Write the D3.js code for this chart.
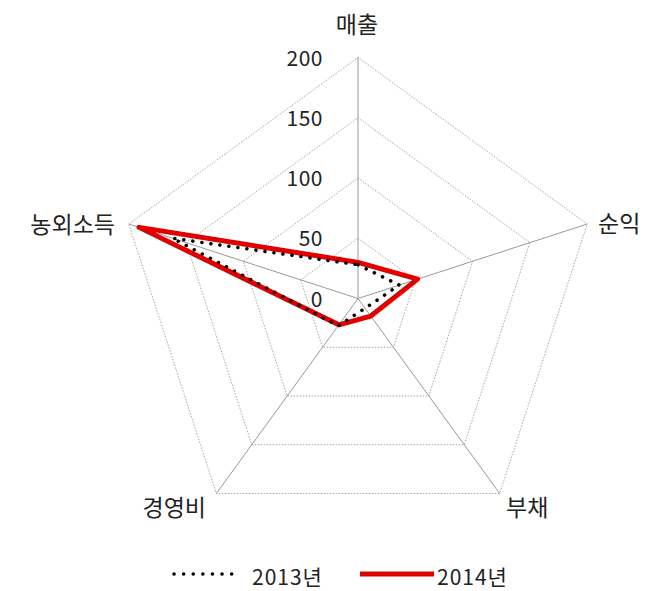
<!DOCTYPE html>
<html>
<head>
<meta charset="utf-8">
<script src="https://cdn.jsdelivr.net/npm/d3@7"></script>
<style>
  body { margin: 0; background: #fff; }
  text { font-family: "Noto Sans CJK KR", "Noto Sans", sans-serif; fill: #222; }
</style>
</head>
<body>
<div id="chart"></div>
<script>
// axes, clockwise from top
var categories = ['매출', '순익', '부채', '경영비', '농외소득'];
var values_2013 = [28, 36, 10, 28, 162];
var values_2014 = [30, 52, 18, 27, 191];
var series_names = ['2013년', '2014년'];
var tick_values = [0, 50, 100, 150, 200];

var chart_width = 649;
var chart_height = 591;
var cx = 358, cy = 298.5, radius = 241;

var svg = d3.select('#chart')
  .append('svg')
  .attr('width', chart_width)
  .attr('height', chart_height);

var r_scale = d3.scaleLinear()
  .domain([0, 200])
  .range([0, radius]);

var angle = d3.scalePoint()
  .domain(categories)
  .range([0, 2 * Math.PI * (categories.length - 1) / categories.length]);

function point(cat, v) {
  var a = angle(cat);
  return [cx + r_scale(v) * Math.sin(a), cy - r_scale(v) * Math.cos(a)];
}

var g = svg.append('g');

// grid rings
tick_values.slice(1).forEach(function(t) {
  g.append('polygon')
    .attr('points', categories.map(function(c) { return point(c, t).join(','); }).join(' '))
    .attr('fill', 'none')
    .attr('stroke', '#a6a6a6')
    .attr('stroke-width', 1)
    .attr('stroke-dasharray', '1.5,1.5');
});

// spokes
g.selectAll('.spoke')
  .data(categories)
  .enter()
  .append('line')
  .attr('x1', cx)
  .attr('y1', cy)
  .attr('x2', function(d) { return point(d, 200)[0]; })
  .attr('y2', function(d) { return point(d, 200)[1]; })
  .attr('stroke', '#999')
  .attr('stroke-width', 1);

// tick labels
g.selectAll('.tick')
  .data(tick_values)
  .enter()
  .append('text')
  .attr('x', cx - 35)
  .attr('y', function(d) { return cy - r_scale(d) + 8; })
  .attr('text-anchor', 'end')
  .attr('font-size', '21px')
  .attr('letter-spacing', '0.5px')
  .text(function(d) { return d; });

// category labels
var label_pos = {
  '매출': { x: 357, y: 33, anchor: 'middle' },
  '순익': { x: 598, y: 232, anchor: 'start' },
  '부채': { x: 506, y: 516, anchor: 'start' },
  '경영비': { x: 206, y: 516, anchor: 'end' },
  '농외소득': { x: 115, y: 233, anchor: 'end' }
};
g.selectAll('.cat')
  .data(categories)
  .enter()
  .append('text')
  .attr('x', function(d) { return label_pos[d].x; })
  .attr('y', function(d) { return label_pos[d].y; })
  .attr('text-anchor', function(d) { return label_pos[d].anchor; })
  .attr('font-size', '23px')
  .text(function(d) { return d; });

var line = d3.lineRadial()
  .angle(function(d, i) { return angle(categories[i]); })
  .radius(function(d) { return r_scale(d); })
  .curve(d3.curveLinearClosed);

var plot = g.append('g').attr('transform', 'translate(' + cx + ',' + cy + ')');

plot.append('path')
  .attr('d', line(values_2014))
  .attr('fill', 'none')
  .attr('stroke', '#e00000')
  .attr('stroke-width', 5)
  .attr('stroke-linejoin', 'round');

plot.append('path')
  .attr('d', line(values_2013))
  .attr('fill', 'none')
  .attr('stroke', '#000')
  .attr('stroke-width', 3.5)
  .attr('stroke-linecap', 'round')
  .attr('stroke-dasharray', '0.1,9');

// legend
var legend = svg.append('g');
legend.append('line')
  .attr('x1', 174).attr('x2', 236)
  .attr('y1', 574).attr('y2', 574)
  .attr('stroke', '#000')
  .attr('stroke-width', 3.5)
  .attr('stroke-linecap', 'round')
  .attr('stroke-dasharray', '0.1,9.5');
legend.append('text')
  .attr('x', 252).attr('y', 585)
  .attr('font-size', '21px')
  .attr('letter-spacing', '1px')
  .text(series_names[0]);
legend.append('line')
  .attr('x1', 360).attr('x2', 434)
  .attr('y1', 574).attr('y2', 574)
  .attr('stroke', '#e00000')
  .attr('stroke-width', 5);
legend.append('text')
  .attr('x', 437).attr('y', 585)
  .attr('font-size', '21px')
  .attr('letter-spacing', '1px')
  .text(series_names[1]);
</script>
</body>
</html>
